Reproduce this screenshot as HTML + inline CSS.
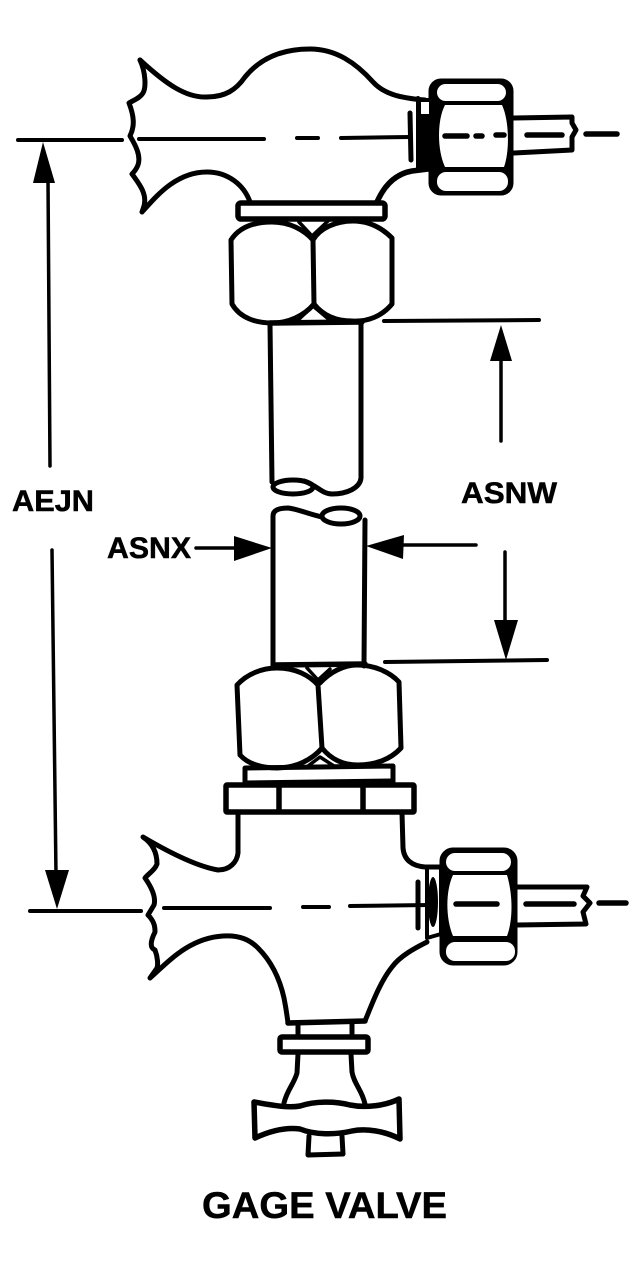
<!DOCTYPE html>
<html>
<head>
<meta charset="utf-8">
<style>
html,body{margin:0;padding:0;background:#fff;}
svg{display:block;}
text{font-family:"Liberation Sans",Arial,sans-serif;font-weight:bold;fill:#000;stroke:#000;stroke-width:.5px;}
</style>
</head>
<body>
<svg width="635" height="1269" viewBox="0 0 635 1269" xmlns="http://www.w3.org/2000/svg">
<rect width="635" height="1269" fill="#fff"/>
<g fill="none" stroke="#000" stroke-width="5" stroke-linejoin="round" stroke-linecap="round">

<!-- Top body -->
<path d="M140 60 C166 84 186 98 207 97 C225 97 236 90 245 77 C262 56 285 49 310 49 C336 49 356 63 373 82 C383 93 398 98 425 100"/>
<path d="M140 60 C146 73 146 88 143 93 C140 98 134 100 129 103 C134 116 135 126 130 136 C136 146 141 156 138 165 C136 170 134 172 132 174 C141 186 147 195 144 206 L142 212 C155 198 175 172 207 172 C228 172 244 185 250 202"/>
<path stroke-width="5.5" d="M377 202 C384 186 395 174 412 171 L428 169"/>
<rect x="238" y="203" width="147" height="16" rx="3" stroke-width="5.5"/>

<!-- Top nuts -->
<path d="M231 240 C240 226 256 222 272 222 C290 222 304 230 313 240 L314 304 C304 316 288 323 272 323 C256 323 240 318 232 304 Z"/>
<path d="M313 240 C320 228 336 221 353 221 C369 221 382 228 392 238 L392 304 C382 316 368 322 352 321 C334 321 322 314 314 304"/>
<path stroke-width="3.5" d="M299 222 L312 236 L328 221 M296 322 L313 306 L332 322"/>
<path stroke-width="5.5" d="M270 323 L362 322"/>

<!-- Upper tube -->
<path d="M270 324 L272 482 M361 324 L361 478 C360 488 347 494 332 494 C322 494 318 486 304 481"/>
<ellipse cx="293" cy="487" rx="20" ry="7"/>

<!-- Lower tube -->
<path d="M273 666 L273 516 C273 510 279 508 288 508 C298 509 308 514 322 517 M364 666 L365 520"/>
<ellipse cx="341" cy="516" rx="19" ry="8"/>
<path stroke-width="5.5" d="M274 665 L365 664"/>

<!-- Lower nuts -->
<path d="M237 685 C247 674 262 668 277 668 C295 668 309 675 318 685 L322 748 C312 760 295 768 277 768 C262 768 248 764 240 755 Z"/>
<path d="M320 683 C330 672 344 665 357 665 C374 665 390 672 399 682 L401 748 C390 760 374 765 358 765 C342 765 330 758 322 748"/>
<path stroke-width="3.5" d="M307 668 L318 680 L330 669"/>
<path stroke-width="3.5" d="M308 766 L320 757 L334 766"/>

<!-- Washer and collar -->
<path stroke-width="5" d="M245 784 L245 768 L393 766 L393 783"/>
<path stroke-width="5" d="M245 783 L393 781"/>
<rect x="226" y="785" width="188" height="27" rx="1" stroke-width="5.5"/>
<path stroke-width="5.5" d="M279 786 L279 811 M363 785 L363 810"/>

<!-- Lower body -->
<path d="M238 814 L238 853 C237 862 230 870 218 870 C195 866 165 850 143 837 C155 845 157 856 157 864 C155 870 148 874 145 878 C152 888 156 898 154 905 L148 915 C155 922 155 928 155 932 C150 942 150 948 155 950 C158 958 158 965 157 968 L150 978 C170 960 190 938 223 936 C240 935 250 940 258 948 C272 962 280 980 284 998 C286 1008 287 1015 288 1023"/>
<path stroke-width="5.5" d="M288 1023 L365 1021"/>
<path stroke-width="5" d="M365 1021 C372 1004 380 982 392 967 C400 956 415 948 427 942"/>
<path d="M402 813 L403 848 C404 860 412 866 425 867 L441 867"/>

<!-- Bonnet and handle -->
<path d="M298 1025 L298 1036 M352 1024 L352 1035"/>
<rect x="280" y="1037" width="88" height="15" rx="2" stroke-width="5.5"/>
<path d="M298 1054 L297 1073 C294 1084 287 1090 284 1103 M351 1054 L352 1072 C354 1084 362 1090 365 1104"/>
<path stroke-width="5.5" d="M254 1102 C275 1106 290 1108 300 1106 C315 1101 335 1101 350 1105 C365 1108 385 1106 399 1099 L400 1139 C385 1131 365 1128 352 1131 C335 1135 315 1135 300 1129 C285 1127 270 1131 255 1138 Z"/>
<path stroke-width="5" d="M309 1136 L308 1155 L343 1154 L342 1136"/>

<!-- Top fitting -->
<rect x="430" y="80" width="82" height="114" rx="11" fill="#000" stroke-width="3"/>
<rect x="437" y="84" width="69" height="17" rx="8.5" fill="#fff" stroke="none"/>
<rect x="437" y="172" width="71" height="19" rx="9" fill="#fff" stroke="none"/>
<path fill="#fff" stroke="none" d="M445 105 L502 105 C509 120 510 150 504 167 L445 167 C437 150 437 120 445 105 Z"/>
<path stroke-width="4" d="M418 98 L418 168"/>
<rect x="419" y="98" width="13" height="70" fill="#000" stroke="none"/>
<rect x="421" y="102" width="8" height="12" fill="#fff" stroke="none"/>
<path stroke-width="5" d="M410 113 L411 160"/>
<path stroke-width="5.5" d="M445 136 L467 136 M476 136 L482 136 M496 135 L504 135 M527 135 L562 135 M586 134 L617 134"/>
<path stroke-width="5" d="M514 118 L572 117 L572 123 L576 130 L572 137 L572 150 L514 153"/>

<!-- Bottom fitting -->
<rect x="441" y="849" width="75" height="115" rx="12" fill="#000" stroke-width="3"/>
<rect x="446" y="853" width="65" height="18" rx="9" fill="#fff" stroke="none"/>
<rect x="446" y="942" width="69" height="19" rx="9" fill="#fff" stroke="none"/>
<path fill="#fff" stroke="none" d="M453 875 L507 875 C513 895 513 920 507 936 L453 936 C446 920 445 892 453 875 Z"/>
<path stroke-width="4" d="M427 868 L427 938 L441 934"/>
<path stroke-width="4" d="M441 868 L441 934"/>
<ellipse cx="433" cy="902" rx="5" ry="25" fill="#000" stroke="none"/>
<path stroke-width="5" d="M418 882 L418 928"/>
<path stroke-width="5.5" d="M456 904 L497 904 M526 904 L574 904 M599 903 L626 903"/>
<path stroke-width="5" d="M517 887 L587 887 L583 896 L590 903 L583 912 L586 924 L517 925"/>

<!-- Centre lines and dimension lines -->
<path stroke-width="4" d="M18 140 L122 140 M139 139 L264 139 M297 138 L318 138 M341 138 L410 137"/>
<path stroke-width="4" d="M30 911 L141 911 M164 908 L270 908 M303 907 L329 907 M350 906 L430 905"/>
<path stroke-width="3.5" d="M48 180 L50 466 M52 550 L56 875"/>
<path stroke-width="4" d="M384 321 L539 320 M385 662 L547 660"/>
<path stroke-width="3.5" d="M501 355 L501 441 M505 552 L505 625"/>
<path stroke-width="3.5" d="M196 548 L240 548 M400 545 L476 545"/>
</g>

<!-- Arrowheads -->
<g fill="#000" stroke="none">
<polygon points="43,142 33,183 55,183"/>
<polygon points="57,909 45,870 69,870"/>
<polygon points="501,325 490,361 512,361"/>
<polygon points="506,660 494,620 518,620"/>
<polygon points="272,548 234,536 234,561"/>
<polygon points="366,546 404,535 403,559"/>
</g>

<!-- Labels -->
<text x="12" y="511" font-size="30" textLength="82" lengthAdjust="spacingAndGlyphs">AEJN</text>
<text x="461" y="503" font-size="30" textLength="96" lengthAdjust="spacingAndGlyphs">ASNW</text>
<text x="107" y="558" font-size="30" textLength="84" lengthAdjust="spacingAndGlyphs">ASNX</text>
<text x="202" y="1218" font-size="37" textLength="245" lengthAdjust="spacingAndGlyphs">GAGE VALVE</text>
</svg>
</body>
</html>
